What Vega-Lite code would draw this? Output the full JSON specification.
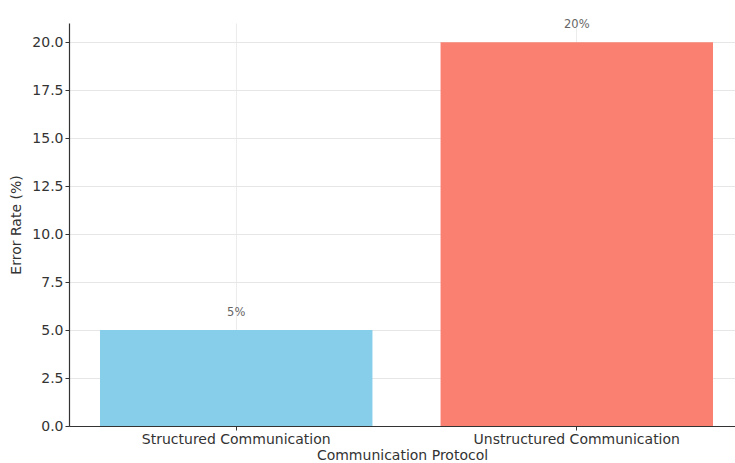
{
  "$schema": "https://vega.github.io/schema/vega-lite/v6.json",
  "autosize": {"type": "none"},
  "padding": {"left": 69, "top": 23, "right": -9, "bottom": 37},
  "width": 675,
  "height": 403,
  "background": "white",
  "config": {
    "font": "DejaVu Sans",
    "view": {"stroke": null},
    "axis": {
      "gridColor": "#e6e6e6",
      "gridWidth": 1,
      "domainColor": "#333333",
      "domainWidth": 1.2,
      "tickColor": "#333333",
      "tickSize": 4,
      "labelColor": "#333333",
      "labelFontSize": 14,
      "labelLimit": 0,
      "titleColor": "#333333",
      "titleFontSize": 14,
      "titleFontWeight": "normal",
      "labelPadding": 2
    }
  },
  "data": {
    "values": [
      {"protocol": "Structured Communication", "error": 5, "label": "5%"},
      {"protocol": "Unstructured Communication", "error": 20, "label": "20%"}
    ]
  },
  "encoding": {
    "x": {
      "field": "protocol",
      "type": "nominal",
      "sort": null,
      "scale": {"paddingInner": 0.2, "paddingOuter": 0.091},
      "axis": {"labelAngle": 0, "title": "Communication Protocol", "titleX": 333, "grid": true, "gridColor": "#ececec", "titlePadding": 2, "bandPosition": 0.5}
    },
    "y": {
      "field": "error",
      "type": "quantitative",
      "scale": {"domain": [0, 21], "nice": false},
      "axis": {"title": "Error Rate (%)", "values": [0, 2.5, 5, 7.5, 10, 12.5, 15, 17.5, 20], "format": ".1f", "titlePadding": 8}
    }
  },
  "layer": [
    {
      "mark": {"type": "bar"},
      "encoding": {
        "color": {
          "field": "protocol",
          "type": "nominal",
          "scale": {"range": ["#87CEEB", "#FA8072"]},
          "legend": null
        }
      }
    },
    {
      "mark": {"type": "text", "dy": -17, "fontSize": 11.5, "color": "#666666"},
      "encoding": {"text": {"field": "label"}}
    }
  ]
}
